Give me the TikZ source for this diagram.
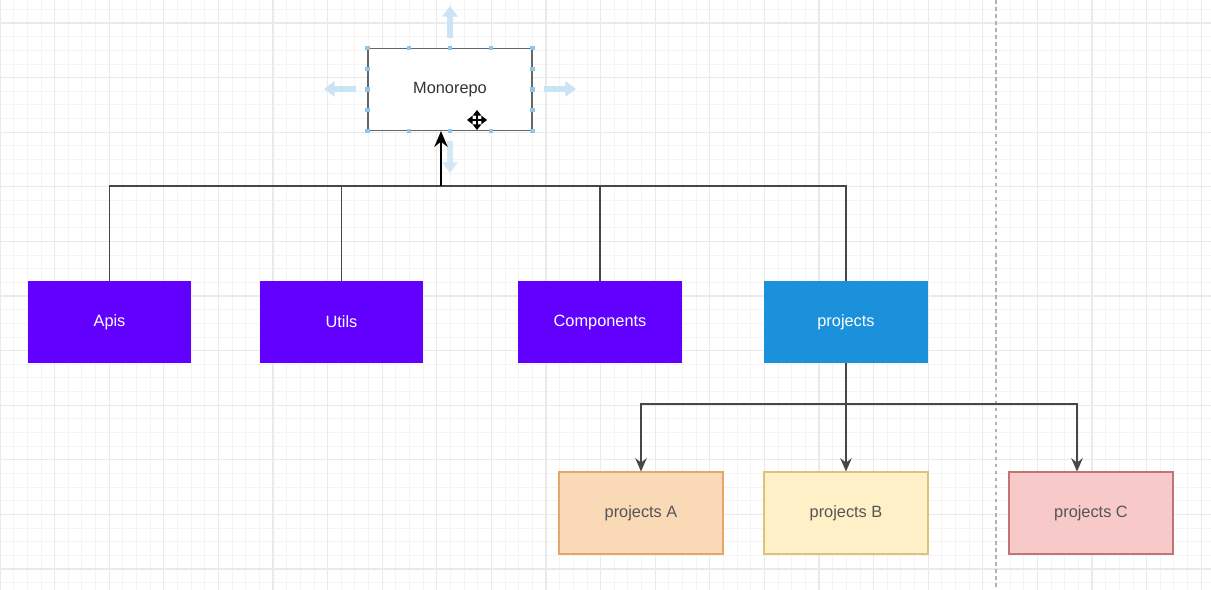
\documentclass[tikz,border=0pt]{standalone}
\usepackage{fontspec}
\setmainfont{Liberation Sans}
\usetikzlibrary{arrows.meta, positioning, calc}

\definecolor{pkgviolet}{HTML}{6100FF}
\definecolor{projblue}{HTML}{1B90DB}
\definecolor{afill}{HTML}{FAD9B7}
\definecolor{aline}{HTML}{E3A868}
\definecolor{bfill}{HTML}{FFF0C8}
\definecolor{bline}{HTML}{DDC27A}
\definecolor{cfill}{HTML}{F7C9C9}
\definecolor{cline}{HTML}{C07474}
\definecolor{hoverblue}{HTML}{CBE4F5}
\definecolor{handleblue}{HTML}{8FC5EA}
\definecolor{gridminor}{HTML}{F4F4F4}
\definecolor{gridmajor}{HTML}{EAEAEA}
\definecolor{edgegray}{HTML}{474747}
\definecolor{labelgray}{HTML}{555555}

\tikzset{
  box/.style={rectangle, minimum width=3.28cm, minimum height=1.64cm,
    inner sep=0pt, font=\fontsize{9.3}{11}\selectfont},
  pkg/.style={box, fill=pkgviolet, text=white},
  proj/.style={box, fill=projblue, text=white},
  sub/.style={box, line width=0.6pt, text=labelgray},
  edge/.style={draw=edgegray, line width=0.85pt},
  tip/.style={-{Stealth[length=7.5pt, width=6.5pt]}},
  hover/.style={hoverblue, line width=3.5pt, -{Triangle[length=6pt, width=8.5pt]}},
  handle/.style={fill=handleblue, draw=none, minimum size=2.4pt, inner sep=0pt, rectangle}
}

\begin{document}
\begin{tikzpicture}[x=0.02cm, y=-0.02cm]
\useasboundingbox (0,0) rectangle (1211,590);
\fill[white] (0,0) rectangle (1211,590);

% Grid
\foreach \i in {0,...,89}
  \draw[gridminor, line width=0.5pt] (\i*13.65,0) -- (\i*13.65,590);
\foreach \j in {0,...,43}
  \draw[gridminor, line width=0.5pt] (0,9.35+\j*13.65) -- (1211,9.35+\j*13.65);
\foreach \i in {0,...,22}
  \draw[gridmajor, line width=0.7pt] (\i*54.6,0) -- (\i*54.6,590);
\foreach \j in {0,...,10}
  \draw[gridmajor, line width=0.7pt] (0,23+\j*54.6) -- (1211,23+\j*54.6);

% Page break
\draw[gray!60, line width=0.6pt, dash pattern=on 2pt off 2pt] (996,0) -- (996,590);

% Hover arrows
\draw[hover] (450,38) -- (450,6);
\draw[hover] (356,89) -- (324,89);
\draw[hover] (544,89) -- (576,89);
\draw[hover, opacity=0.8] (450,141) -- (450,173);

% Nodes
\node[box, draw=gray!80!black, line width=0.6pt, fill=white, text=black!80] (mono) at (450,89.5) {Monorepo};
\node[pkg] (apis) at (109.5,322) {Apis};
\node[pkg] (utils) at (341.5,322) {Utils};
\node[pkg] (components) at (600,322) {Components};
\node[proj] (projects) at (846,322) {projects};
\node[sub, fill=afill, draw=aline] (pa) at (641,513) {projects A};
\node[sub, fill=bfill, draw=bline] (pb) at (846,513) {projects B};
\node[sub, fill=cfill, draw=cline] (pc) at (1091,513) {projects C};

% Selection handles
\foreach \f in {0,0.25,0.5,0.75,1} {
  \node[handle] at ($(mono.north west)!\f!(mono.north east)$) {};
  \node[handle] at ($(mono.south west)!\f!(mono.south east)$) {};
  \node[handle] at ($(mono.north west)!\f!(mono.south west)$) {};
  \node[handle] at ($(mono.north east)!\f!(mono.south east)$) {};
}

% Move cursor
\coordinate (cur) at (477,120);
\foreach \d in {(0,-10),(0,10),(-10,0),(10,0)}
  \draw[white, line width=2.8pt, -{Triangle[length=4pt, width=6pt]}] (cur) -- ++\d;
\foreach \d in {(0,-10),(0,10),(-10,0),(10,0)}
  \draw[black, line width=1pt, -{Triangle[length=3.2pt, width=4.8pt]}] (cur) -- ++\d;

% Packages up to the monorepo
\coordinate (hub) at (441,186);
\draw[edge] (apis.north) |- (hub);
\draw[edge] (utils.north) |- (hub);
\draw[edge] (components.north) |- (hub);
\draw[edge] (projects.north) |- (hub);
\draw[edge, draw=black, line width=1.6pt, -{Stealth[length=9pt, width=7.5pt]}] (hub) -- (hub |- mono.south);

% Projects down to the apps
\coordinate (split) at (846,404);
\draw[edge] (projects.south) -- (split);
\draw[edge, tip] (split) -| (pa.north);
\draw[edge, tip] (split) -- (pb.north);
\draw[edge, tip] (split) -| ($(pc.north)+(-14,0)$);
\end{tikzpicture}
\end{document}
